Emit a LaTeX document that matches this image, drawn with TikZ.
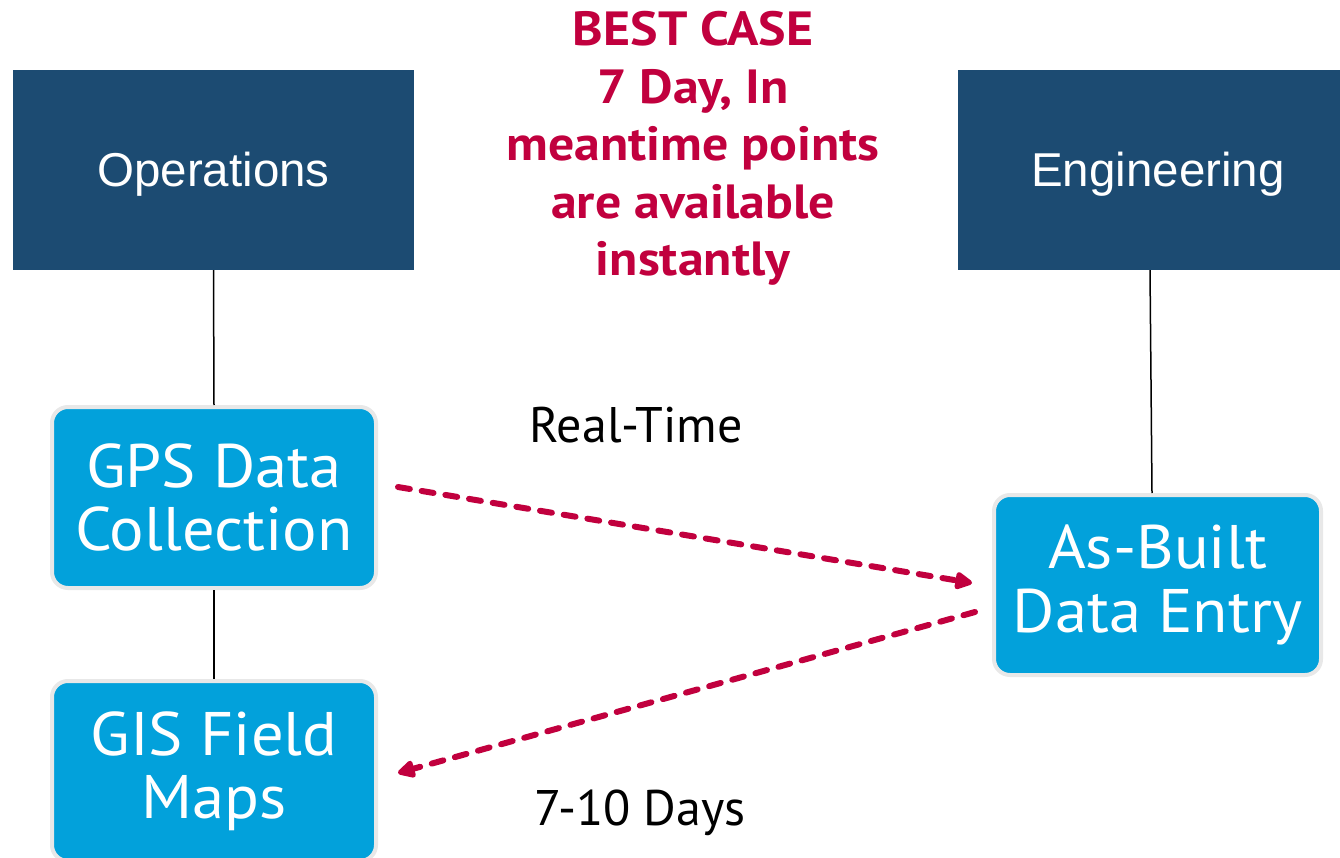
\documentclass[tikz,border=0pt]{standalone}
\usepackage{fontspec}
\setmainfont{Liberation Sans}
\newfontfamily\hum{PT Sans}
\newfontfamily\humbox[FakeStretch=1.05]{PT Sans}
\newfontfamily\humtitle[FakeStretch=1.08]{PT Sans}
\usetikzlibrary{arrows.meta}
\definecolor{darkbl}{RGB}{28,75,114}
\definecolor{lightbl}{RGB}{2,161,219}
\definecolor{crim}{RGB}{193,0,62}
\definecolor{brd}{RGB}{232,232,232}
\tikzset{
  hdr/.style={fill=darkbl, text=white, inner sep=0pt, text height=34pt, text depth=0pt,
     font=\fontsize{47.5}{55}\selectfont},
  procbox/.style={fill=lightbl, draw=brd, line width=4pt, rounded corners=16pt, text=white,
     inner sep=0pt, align=center, font=\humbox\fontsize{61.5}{63.5}\selectfont},
  link/.style={draw=black, line width=1.5pt},
  flow/.style={draw=crim, line width=6pt, dash pattern=on 12pt off 12pt, line cap=round,
     -{Triangle[length=20pt,width=19pt,round]}},
  lbl/.style={inner sep=0pt, font=\hum\fontsize{50}{55}\selectfont}
}
\begin{document}
\begin{tikzpicture}[x=1pt,y=-1pt]
\useasboundingbox (0,0) rectangle (1340,858);
\fill[white] (0,0) rectangle (1340,858);
\node[hdr, minimum width=401pt, minimum height=200pt] (ops) at (213.5,170) {Operations};
\node[hdr, minimum width=382pt, minimum height=200pt] (eng) at (1149,170) {\hspace*{18pt}Engineering};
\node[procbox, minimum width=324pt, minimum height=181pt] (gps) at (214,497.5) {GPS Data\\Collection};
\node[procbox, minimum width=324pt, minimum height=180pt] (gis) at (214,771) {GIS Field\\Maps};
\node[procbox, minimum width=327pt, minimum height=180pt] (asb) at (1157.5,585) {As-Built\\Data Entry};
\draw[link] (ops.south) -- (gps.north);
\draw[link] (gps.south) -- (gis.north);
\draw[link] ([xshift=1pt]eng.south) -- ([xshift=-5.5pt]asb.north);
\coordinate (f1s) at (398,487);
\coordinate (f1e) at (972,583);
\coordinate (f2s) at (975,612);
\coordinate (f2e) at (398,773);
\draw[flow] (f1s) -- (f1e);
\draw[flow] (f2s) -- (f2e);
\node[lbl, anchor=base] (rt) at (636,442) {Real-Time};
\node[lbl, anchor=base] (td) at (640,825) {7-10 Days};
\node[inner sep=0pt, anchor=north, align=center, text=crim,
      font=\humtitle\bfseries\fontsize{48}{57.5}\selectfont] (bc) at (693,11.5)
      {BEST CASE\\7 Day, In\\meantime points\\are available\\instantly};
\end{tikzpicture}
\end{document}
